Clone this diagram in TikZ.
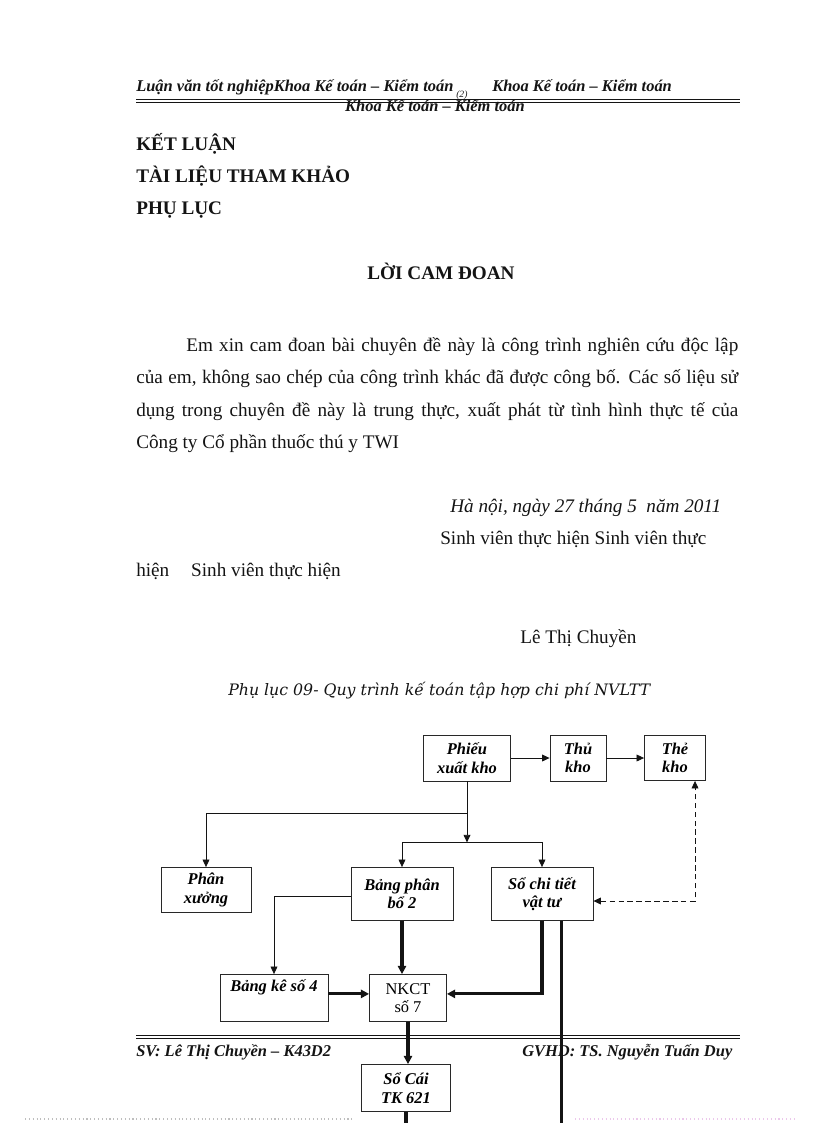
\documentclass[tikz,border=0pt]{standalone}
\usepackage{fontspec}
\setmainfont{Liberation Serif}
\newfontfamily\captionserif{DejaVu Serif}
\usepackage{xcolor}
\usetikzlibrary{arrows.meta,positioning,calc}
\definecolor{inkblack}{RGB}{20, 20, 20}
\definecolor{boxedge}{RGB}{40, 40, 40}
\definecolor{dotgray}{RGB}{190, 190, 190}
\definecolor{dotpink}{RGB}{235, 200, 235}
\def\pxu{0.7295pt}
\newcommand{\hdrfont}{\fontsize{12}{14}\selectfont\bfseries\itshape}
\newcommand{\bodyfont}{\fontsize{14}{17}\selectfont}
\newcommand{\boxfont}{\fontsize{12}{13.5}\selectfont\bfseries\itshape}

\begin{document}
\begin{tikzpicture}[
    x=\pxu, y=-\pxu,
    txt/.style={inner sep=0pt, anchor=base west, font=\bodyfont, text=inkblack},
    ledgerbox/.style={draw=boxedge, line width=0.6pt, fill=white, align=center, font=\boxfont, inner sep=1pt},
    flow/.style={-{Triangle[length=5.5pt,width=5pt]}, line width=0.6pt, inkblack},
    dashflow/.style={{Triangle[length=5.5pt,width=5pt]}-{Triangle[length=5.5pt,width=5pt]}, line width=0.6pt, dash pattern=on 4pt off 2.5pt, inkblack},
    heavyflow/.style={-{Triangle[length=6pt,width=6pt]}, line width=2.2pt, inkblack},
    heavyline/.style={line width=2.2pt, inkblack}
]
\useasboundingbox (0,0) rectangle (816,1123);
\coordinate (pageend) at (0,1123);

% ==================== PAGE HEADER ====================
\node[txt, font=\hdrfont] (hdrleft) at (136,91) {Luận văn tốt nghiệpKhoa Kế toán – Kiểm toán};
\node[txt, font=\hdrfont] (hdrright) at (492,91) {Khoa Kế toán – Kiểm toán};
\node[txt, font=\fontsize{7}{8}\selectfont\itshape] (pageno) at (456,97) {(2)};
\node[txt, anchor=base, font=\hdrfont] (hdrbelow) at (435,111) {Khoa Kế toán – Kiểm toán};
\draw[line width=1.4pt, inkblack] (136,99.5) -- (740,99.5);
\draw[line width=0.6pt, inkblack] (136,102.5) -- (740,102.5);

% ==================== HEADINGS ====================
\node[txt, font=\bodyfont\bfseries] (ketluan) at (136,150) {KẾT LUẬN};
\node[txt, font=\bodyfont\bfseries] (tailieu) at (136,182) {TÀI LIỆU  THAM KHẢO};
\node[txt, font=\bodyfont\bfseries] (phuluc) at (136,214) {PHỤ LỤC};
\node[txt, anchor=base, font=\bodyfont\bfseries] (camdoan) at (441,279) {LỜI CAM ĐOAN};

% ==================== STATEMENT ====================
\node[txt] (para1) at (186,351) {\makebox[402.7pt][s]{Em xin cam đoan bài chuyên đề này là công trình nghiên cứu độc lập}};
\node[txt] (para2) at (136,383) {\makebox[439.2pt][s]{của em, không sao chép của công trình khác đã được công bố. Các số liệu sử}};
\node[txt] (para3) at (136,416) {\makebox[439.2pt][s]{dụng trong chuyên đề này là trung thực, xuất phát từ tình hình thực tế của}};
\node[txt] (para4) at (136,448) {Công ty Cổ phần thuốc thú y TWI};

\node[txt, font=\bodyfont\itshape] (date) at (450,512) {Hà nội, ngày 27 tháng 5 \ năm 2011};
\node[txt] (sign1) at (440,544) {Sinh viên thực hiện Sinh viên thực};
\node[txt] (sign2) at (136,576) {hiện\hspace{16pt}Sinh viên thực hiện};
\node[txt] (author) at (520,643) {Lê Thị Chuyền};

% ==================== FLOW CHART ====================
\node[txt, font=\captionserif\fontsize{11.5}{13}\selectfont\itshape] (caption) at (228,695) {Phụ lục 09- Quy trình kế toán tập hợp chi phí NVLTT};

\node[ledgerbox, minimum width=87*\pxu, minimum height=46*\pxu] (pxk) at (467,758) {Phiếu\\xuất kho};
\node[ledgerbox, minimum width=56*\pxu, minimum height=46*\pxu] (thukho) at (578,758) {Thủ\\kho};
\node[ledgerbox, minimum width=61*\pxu, minimum height=45*\pxu] (thekho) at (675,758) {Thẻ\\kho};

\node[ledgerbox, minimum width=90*\pxu, minimum height=45*\pxu] (phanxuong) at (206,890) {Phân\\xưởng};
\node[ledgerbox, minimum width=102*\pxu, minimum height=53*\pxu] (bangpb) at (402,894) {Bảng phân\\bổ 2};
\node[ledgerbox, minimum width=102*\pxu, minimum height=53*\pxu] (sochitiet) at (542,894) {Sổ chi tiết\\vật tư};

\node[ledgerbox, minimum width=108*\pxu, minimum height=47*\pxu] (bangke) at (274,998) {Bảng kê số 4\\\strut};
\node[ledgerbox, minimum width=77*\pxu, minimum height=47*\pxu, font=\fontsize{12}{13.5}\selectfont] (nkct) at (408,998) {NKCT\\số 7};

% ==================== PAGE FOOTER ====================
\draw[line width=0.6pt, inkblack] (136,1035) -- (740,1035);
\draw[line width=1.4pt, inkblack] (136,1038.5) -- (740,1038.5);
\node[txt, font=\hdrfont] (footleft) at (136,1056) {SV: Lê Thị Chuyền – K43D2};
\node[txt, font=\hdrfont] (footright) at (522,1056) {GVHD: TS. Nguyễn Tuấn Duy};
\draw[dotgray, dotted, line width=0.8pt] (25,1119) -- (355,1119);
\draw[dotpink, dotted, line width=0.8pt] (575,1119) -- (795,1119);

\node[ledgerbox, minimum width=89*\pxu, minimum height=47*\pxu] (socai) at (406,1088) {Sổ Cái\\TK 621};

% ==================== CONNECTORS ====================
% issue slip to storekeeper and stock card
\draw[flow] (pxk.east) -- (thukho.west);
\draw[flow] (thukho.east) -- (thekho.west);

% issue slip branches
\draw[flow] (pxk.south) -- ++(0,61) coordinate (split);
\draw[flow] (pxk.south) ++(0,32) -| (phanxuong.north);
\draw[flow] (split) -| (bangpb.north);
\draw[flow] (split) -| (sochitiet.north);

% reconciliation between stock card and detail ledger
\draw[dashflow] ($(sochitiet.east)+(0,7)$) -| ([xshift=14.6pt]thekho.south);

% allocation sheet to listing no. 4
\draw[flow] ($(bangpb.west)+(0,2)$) -| (bangke.north);

% postings into journal voucher no. 7
\draw[heavyflow] (bangpb.south) -- (bangpb.south |- nkct.north);
\draw[heavyflow] ([yshift=3pt]bangke.east) -- ([yshift=3pt]nkct.west);
\draw[heavyflow] (sochitiet.south) |- ([yshift=3pt]nkct.east);
\draw[heavyline] ([xshift=14pt]sochitiet.south) coordinate (detailout) -- (detailout |- pageend);

% journal voucher to general ledger
\draw[heavyflow] (nkct.south) -- (nkct.south |- socai.north);
\draw[heavyline] (socai.south) -- (socai.south |- pageend);

\end{tikzpicture}
\end{document}
